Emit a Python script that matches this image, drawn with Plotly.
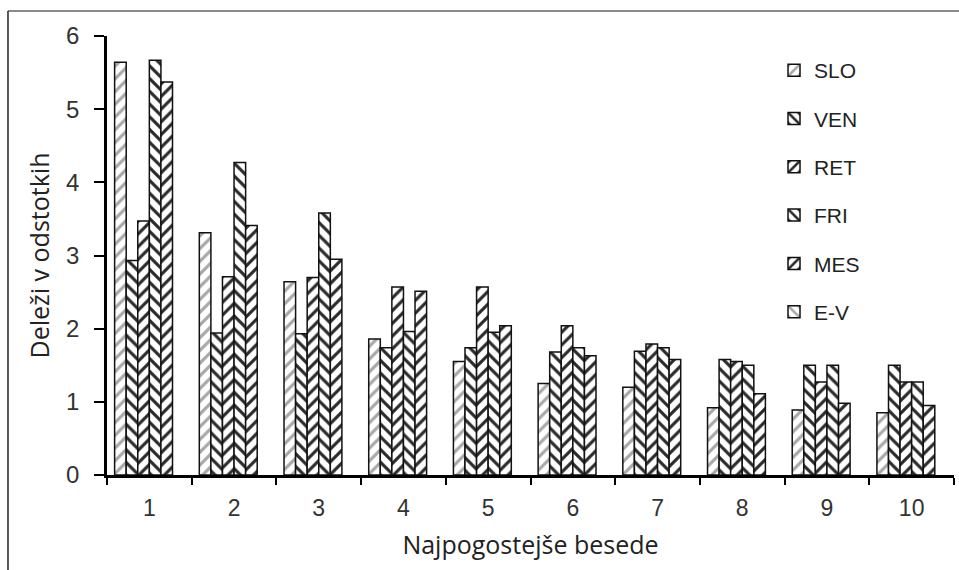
import plotly.graph_objects as go

categories = ["1", "2", "3", "4", "5", "6", "7", "8", "9", "10"]
series_names = ["SLO", "VEN", "RET", "FRI", "MES", "E-V"]
SLO = [5.64, 3.31, 2.64, 1.86, 1.55, 1.25, 1.20, 0.92, 0.89, 0.85]
VEN = [2.93, 1.94, 1.93, 1.74, 1.74, 1.68, 1.69, 1.58, 1.50, 1.50]
RET = [3.47, 2.71, 2.70, 2.57, 2.57, 2.04, 1.79, 1.55, 1.27, 1.27]
FRI = [5.67, 4.27, 3.58, 1.96, 1.95, 1.74, 1.74, 1.50, 1.50, 1.27]
MES = [5.37, 3.41, 2.95, 2.51, 2.04, 1.63, 1.58, 1.11, 0.98, 0.95]
EV = [None] * 10
y_ticks = [0, 1, 2, 3, 4, 5, 6]

values = [SLO, VEN, RET, FRI, MES, EV]
shapes_pat = ["/", "\\", "/", "\\", "/", "\\"]
fg = ["#a8a8a8", "#2a2a2a", "#2a2a2a", "#2a2a2a", "#2a2a2a", "#a8a8a8"]

fig = go.Figure()
for i, (name, vals) in enumerate(zip(series_names, values)):
    fig.add_trace(go.Bar(
        x=categories, y=vals, name=name, legendgroup=name,
        marker=dict(
            color="white",
            line=dict(color="#111111", width=1.5),
            pattern=dict(shape=shapes_pat[i], fgcolor=fg[i], bgcolor="white",
                         size=9, solidity=0.35, fillmode="replace"),
        ),
    ))

fig.update_layout(
    width=959, height=570,
    margin=dict(l=107, r=5, t=36, b=95),
    paper_bgcolor="white", plot_bgcolor="white",
    barmode="group", bargap=0.18, bargroupgap=0,
    font=dict(family="Liberation Sans, Arial", size=20, color="#333333"),
    showlegend=True,
    legend=dict(x=0.7875, y=0.968, xanchor="left", yanchor="top",
                font=dict(family="Liberation Sans, Arial", size=21, color="#222222"),
                tracegroupgap=18, bgcolor="rgba(0,0,0,0)", itemwidth=30),
    xaxis=dict(
        type="category", showline=True, linecolor="black", linewidth=2.5,
        ticks="outside", tickson="boundaries", ticklen=7, tickwidth=2, tickcolor="black",
        ticklabelstandoff=11,
        tickfont=dict(size=23, family="Liberation Sans, Arial", color="#333333"),
        title=dict(text="Najpogostejše besede", standoff=17,
                   font=dict(family="Open Sans", size=25, color="#222222")),
        showgrid=False, zeroline=False, fixedrange=True,
    ),
    yaxis=dict(
        range=[0, 6], tickvals=y_ticks, showline=True, linecolor="black", linewidth=2.5,
        ticks="outside", ticklen=10, tickwidth=2, tickcolor="black",
        ticklabelstandoff=10,
        tickfont=dict(size=24, family="Liberation Sans, Arial", color="#333333"),
        title=dict(text="Deleži v odstotkih", standoff=10,
                   font=dict(family="Open Sans", size=25, color="#222222")),
        showgrid=False, zeroline=False, fixedrange=True,
    ),
    shapes=[
        dict(type="line", xref="paper", yref="paper", x0=-0.1169, x1=1.01, y0=1.0569, y1=1.0569,
             line=dict(color="#8a8a8a", width=2)),
        dict(type="line", xref="paper", yref="paper", x0=-0.1169, x1=-0.1169, y0=1.0569, y1=-0.25,
             line=dict(color="#222222", width=1.5)),
    ],
)

fig.write_html("out.html")
